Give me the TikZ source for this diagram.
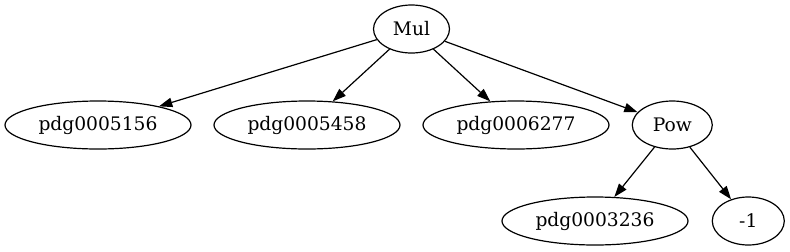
\documentclass[tikz,border=0pt]{standalone}
\usepackage{fontspec}
\setmainfont{DejaVu Serif}
\usepackage{tikz}
\usetikzlibrary{shapes.geometric,arrows.meta}

\begin{document}
\begin{tikzpicture}[
x=0.75pt, y=-0.75pt,
op/.style={draw, ellipse, line width=0.9pt, inner sep=0pt, minimum height=36pt, minimum width=57pt, font=\fontsize{14}{16}\selectfont},
leaf/.style={op, minimum width=139.5pt},
arrow/.style={-{Triangle[length=10pt, width=7pt]}, line width=0.9pt}
]
\useasboundingbox (0,0) rectangle (790,251);
\node[op] (mul) at (411.5,29) {Mul};
\node[leaf] (p5156) at (98,125) {pdg0005156};
\node[leaf] (p5458) at (307,125) {pdg0005458};
\node[leaf] (p6277) at (516,125) {pdg0006277};
\node[op, minimum width=60pt] (pow) at (672.3,125) {Pow};
\node[leaf] (p3236) at (595,221) {pdg0003236};
\node[op, minimum width=54pt] (neg) at (748.3,221) {-1};
\draw[arrow] (mul) -- (p5156);
\draw[arrow] (mul) -- (p5458);
\draw[arrow] (mul) -- (p6277);
\draw[arrow] (mul) -- (pow);
\draw[arrow] (pow) -- (p3236);
\draw[arrow] (pow) -- (neg);
\end{tikzpicture}
\end{document}
